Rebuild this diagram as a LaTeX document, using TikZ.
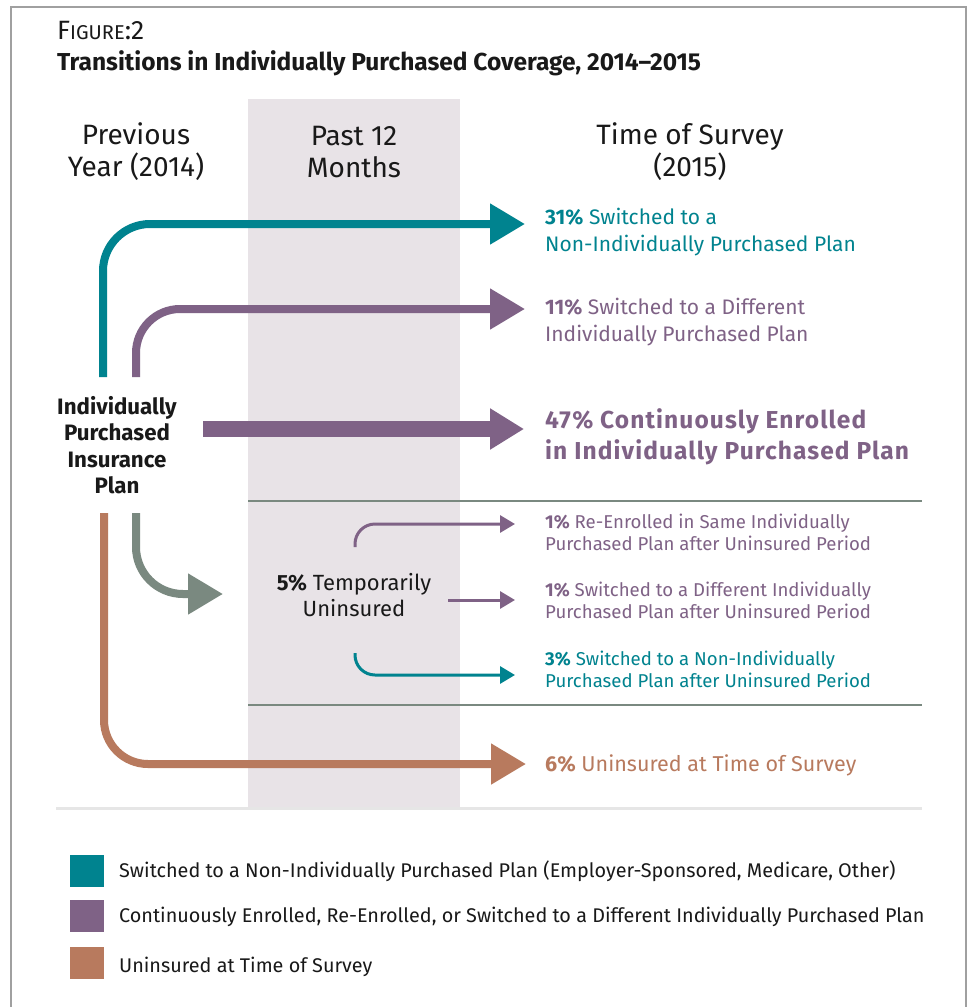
\documentclass[tikz,border=0pt]{standalone}
\usepackage{fontspec}
\setmainfont{Fira Sans}
\usetikzlibrary{arrows.meta}

\definecolor{cTeal}{RGB}{0,131,143}
\definecolor{cPurple}{RGB}{127,98,134}
\definecolor{cRust}{RGB}{184,122,94}
\definecolor{cSage}{RGB}{122,137,128}
\definecolor{cShade}{RGB}{232,227,231}
\definecolor{cFrame}{RGB}{160,160,160}
\definecolor{cRule}{RGB}{230,230,230}
\definecolor{cInk}{RGB}{25,25,25}

\newcommand\setfs[2]{\fontsize{#1}{#2}\selectfont}

\begin{document}
\begin{tikzpicture}[x=1pt,y=-1pt,
  flow/.style={line width=8pt},
  thinflow/.style={line width=3pt},
  bighead/.style={-{Triangle[length=35pt,width=39pt]}},
  smallhead/.style={-{Triangle[length=15pt,width=17pt]}},
  hdr/.style={align=center,text=cInk,inner sep=0pt,font=\setfs{28}{32}},
  outcome/.style={anchor=base west,align=left,inner sep=0pt,font=\setfs{21}{27}},
  minor/.style={anchor=base west,align=left,inner sep=0pt,font=\setfs{18.6}{21.5}},
  swatch/.style={minimum width=34pt,minimum height=32pt,inner sep=0pt},
  keytext/.style={anchor=base west,inner sep=0pt,text=cInk,font=\setfs{19.8}{23}},
  divider/.style={cSage,line width=2.5pt}
]
% canvas and frame
\fill[white] (0,0) rectangle (972,1007);
\useasboundingbox (0,0) rectangle (972,1007);
\draw[cFrame,line width=1.8pt] (11,1007) -- (11,7) -- (966,7) -- (966,1007);

% title (multi-line nodes below are anchored on their last baseline)
\node[anchor=base west,inner sep=0pt,text=cInk] (fig) at (57,39)
  {\setfs{26.5}{30}F\setfs{20}{30}IGURE\setfs{26.5}{30}:2};
\node[anchor=base west,inner sep=0pt,text=cInk,font=\setfs{24.5}{28}\bfseries] (title) at (57,70)
  {Transitions in Individually Purchased Coverage, 2014–2015};

% shaded "past 12 months" band and rules
\fill[cShade] (248,99) rectangle (460,808);
\draw[divider] (248,501) -- (922,501);
\draw[divider] (248,705) -- (922,705);
\draw[cRule,line width=3pt] (56,808) -- (922,808);

% column headings
\node[hdr] (h1) at (136,152) {Previous\\Year (2014)};
\node[hdr] (h2) at (354,152) {Past 12\\Months};
\node[hdr] (h3) at (690,152) {Time of Survey\\(2015)};

% origin
\node[align=center,inner sep=0pt,text=cInk,font=\setfs{22.3}{26.5}\bfseries] (src) at (117,445)
  {Individually\\Purchased\\Insurance\\Plan};

% outcomes
\node[outcome,text=cTeal] (o31) at (545,251)
  {\textbf{31\%} Switched to a\\Non-Individually Purchased Plan};
\node[outcome,text=cPurple] (o11) at (545,341)
  {\textbf{11\%} Switched to a Different\\Individually Purchased Plan};
\node[outcome,text=cPurple,font=\setfs{24.5}{31}\bfseries\addfontfeatures{LetterSpace=4.5}] (o47) at (545,459)
  {47\% Continuously Enrolled\\in Individually Purchased Plan};
\node[align=center,inner sep=0pt,text=cInk,font=\setfs{22}{26}] (tmp) at (354,595)
  {\textbf{5\%} Temporarily\\Uninsured};
\node[minor,text=cPurple] (r1) at (545,550)
  {\textbf{1\%} Re-Enrolled in Same Individually\\Purchased Plan after Uninsured Period};
\node[minor,text=cPurple] (r2) at (545,618)
  {\textbf{1\%} Switched to a Different Individually\\Purchased Plan after Uninsured Period};
\node[minor,text=cTeal] (r3) at (545,687)
  {\textbf{3\%} Switched to a Non-Individually\\Purchased Plan after Uninsured Period};
\node[outcome,text=cRust,font=\setfs{21.5}{26}] (o6) at (545,771)
  {\textbf{6\%} Uninsured at Time of Survey};

% connector end points
\coordinate (tealA) at (103,377);
\coordinate (tealB) at (525,224);
\coordinate (purA) at (136,377);
\coordinate (purB) at (525,309);
\coordinate (mainA) at (203,429);
\coordinate (mainB) at (524,429);
\coordinate (sageA) at (136,513);
\coordinate (sageB) at (223,594);
\coordinate (rustA) at (104,513);
\coordinate (rustB) at (526,764);
\coordinate (s1A) at (355,547);
\coordinate (s1B) at (515,524);
\coordinate (s2A) at (448,600);
\coordinate (s2B) at (515,600);
\coordinate (s3A) at (355,653);
\coordinate (s3B) at (515,675);

% flows
\draw[flow,cTeal,bighead,rounded corners=47pt] (tealA) |- (tealB);
\draw[flow,cPurple,bighead,rounded corners=44pt] (purA) |- (purB);
\draw[line width=16pt,cPurple,-{Triangle[length=34pt,width=39pt]}] (mainA) -- (mainB);
\draw[flow,cSage,bighead,rounded corners=47pt] (sageA) |- (sageB);
\draw[flow,cRust,bighead,rounded corners=44pt] (rustA) |- (rustB);
\draw[thinflow,cPurple,smallhead,rounded corners=20pt] (s1A) |- (s1B);
\draw[thinflow,cPurple,smallhead] (s2A) -- (s2B);
\draw[thinflow,cTeal,smallhead,rounded corners=20pt] (s3A) |- (s3B);

% key
\node[swatch,fill=cTeal] (k1) at (87,871) {};
\node[swatch,fill=cPurple] (k2) at (87,915.5) {};
\node[swatch,fill=cRust] (k3) at (87,963) {};
\node[keytext] (k1t) at (119,877)
  {Switched to a Non-Individually Purchased Plan (Employer-Sponsored, Medicare, Other)};
\node[keytext] (k2t) at (119,922)
  {Continuously Enrolled, Re-Enrolled, or Switched to a Different Individually Purchased Plan};
\node[keytext] (k3t) at (119,972) {Uninsured at Time of Survey};
\end{tikzpicture}
\end{document}
